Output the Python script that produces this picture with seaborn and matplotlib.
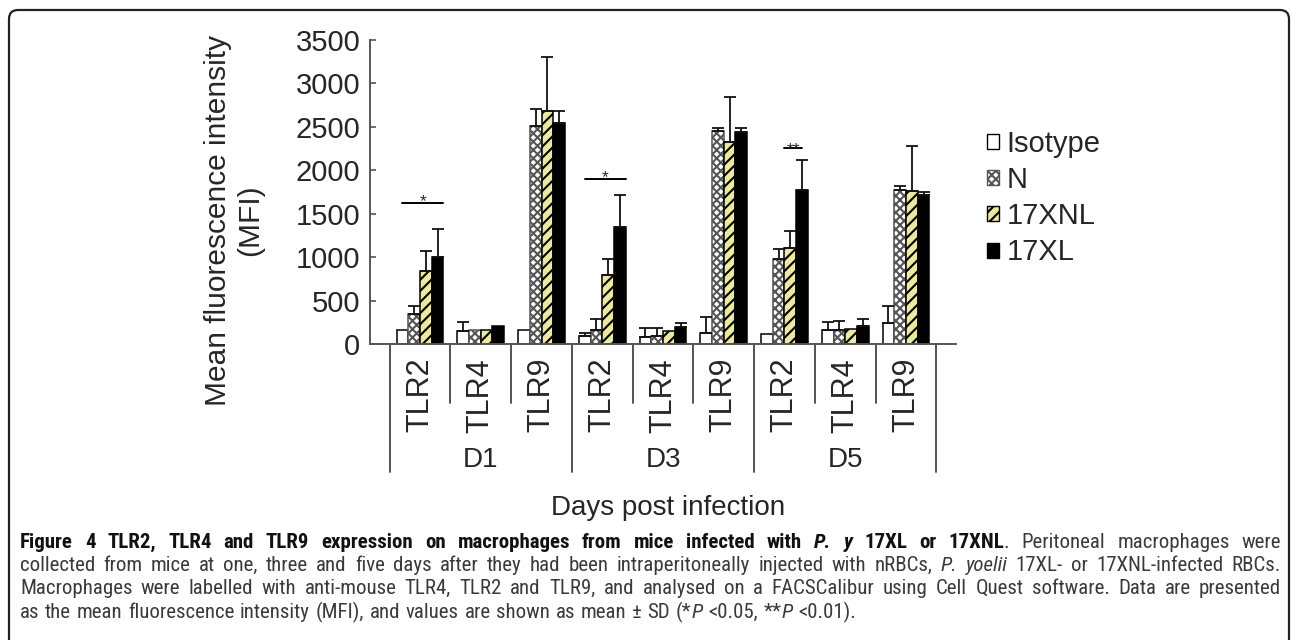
import numpy as np
import pandas as pd
import matplotlib
matplotlib.use("Agg")
import matplotlib.pyplot as plt
import seaborn as sns
from matplotlib import font_manager
from matplotlib.patches import Patch, FancyBboxPatch
from matplotlib.lines import Line2D
from matplotlib.transforms import IdentityTransform

days = ["D1", "D3", "D5"]
receptors = ["TLR2", "TLR4", "TLR9"]
groups = ["Isotype", "N", "17XNL", "17XL"]

# mean MFI, order: D1 TLR2/4/9, D3 TLR2/4/9, D5 TLR2/4/9
isotype = [165, 155, 165, 95, 80, 125, 115, 160, 240]
naive = [345, 160, 2510, 160, 95, 2455, 975, 160, 1775]
xnl = [840, 165, 2680, 790, 155, 2330, 1100, 175, 1760]
xl = [1005, 210, 2540, 1350, 200, 2445, 1775, 210, 1710]

# SD (only the upper half is drawn in the figure)
isotype_sd = [0, 95, 0, 35, 100, 190, 0, 90, 200]
naive_sd = [95, 0, 190, 130, 85, 30, 115, 100, 45]
xnl_sd = [225, 0, 630, 185, 0, 510, 200, 0, 525]
xl_sd = [320, 0, 140, 365, 40, 40, 345, 80, 35]

# significance marks
sig_pos = [0, 3, 6]
sig_text = ["*", "*", "**"]
sig_y = [1620, 1900, 2255]

bar_colors = ["white", "white", "#ebe8a2", "black"]
bar_edges = ["black", "#555555", "black", "black"]
hatches = ["", "xxxx", "///", ""]

sns.set_style("ticks")
plt.rcParams["font.family"] = ["Liberation Sans", "DejaVu Sans"]
plt.rcParams["hatch.linewidth"] = 1.5

cats = [f"{d} {r}" for d in days for r in receptors]
df = pd.DataFrame({
    "cat": np.tile(cats, len(groups)),
    "group": np.repeat(groups, len(cats)),
    "mfi": np.concatenate([isotype, naive, xnl, xl]),
})
sds = [isotype_sd, naive_sd, xnl_sd, xl_sd]

fig = plt.figure(figsize=(12.92, 6.4), dpi=100)
ax = fig.add_axes([370 / 1292, 1 - 344 / 640, 586 / 1292, 304 / 640])
sns.barplot(data=df, x="cat", y="mfi", hue="group", order=cats, hue_order=groups,
            palette=dict(zip(groups, bar_colors)), width=0.77, errorbar=None,
            edgecolor="black", linewidth=1.1, saturation=1, legend=False, ax=ax)
bar_conts = list(ax.containers)

for cont, h, ec, sd in zip(bar_conts, hatches, bar_edges, sds):
    xs, ys, es = [], [], []
    for bar, s in zip(cont, sd):
        bar.set_hatch(h)
        bar.set_edgecolor(ec)
        if s > 0:
            xs.append(bar.get_x() + bar.get_width() / 2)
            ys.append(bar.get_height())
            es.append(s)
    ax.errorbar(xs, ys, yerr=[np.zeros(len(es)), es], fmt="none", ecolor="#111111",
                elinewidth=1.3, capsize=4.5, capthick=1.3)

for i, lab, y in zip(sig_pos, sig_text, sig_y):
    bars = [c[i] for c in bar_conts]
    if lab == "*":
        x0 = bars[0].get_x() + bars[0].get_width() / 2
        x1 = bars[3].get_x() + bars[3].get_width()
        off = -2
    else:
        x0 = bars[2].get_x()
        x1 = bars[3].get_x() + bars[3].get_width() / 2
        off = -4
    ax.plot([x0, x1], [y, y], color="black", lw=1.4)
    ax.annotate(lab, xy=((x0 + x1) / 2, y), xytext=(0, off), textcoords="offset points",
                ha="center", va="baseline", fontsize=12.5)

ax.set_ylim(0, 3500)
ax.set_yticks(np.arange(0, 3501, 500))
ax.tick_params(axis="y", direction="in", length=4, width=1.2, color="#555555",
               labelsize=21, pad=7)
ax.set_xticks(range(len(cats)))
ax.set_xticklabels([c.split()[1] for c in cats], rotation=90, fontsize=22)
ax.tick_params(axis="x", length=0, pad=10)
ax.set_xlabel("")
ax.set_ylabel("")
sns.despine(ax=ax)
for sp in ["left", "bottom"]:
    ax.spines[sp].set_color("#555555")
    ax.spines[sp].set_linewidth(1.4)

xt = ax.get_xaxis_transform()
for k in range(len(cats) + 1):
    depth = -0.421 if k % 3 == 0 else -0.194
    ax.add_line(Line2D([k - 0.5, k - 0.5], [0, depth], transform=xt, color="#444444",
                       lw=1.3, clip_on=False))
for j, d in enumerate(days):
    ax.text(3 * j + 1, -0.3816, d, transform=xt, ha="center", va="center", fontsize=20)

fig.text(668 / 1292, 1 - 508 / 640, "Days post infection", ha="center", va="center",
         fontsize=20)
fig.text(234 / 1292, 1 - 220 / 640, "Mean fluorescence intensity\n(MFI)", rotation=90,
         ha="center", va="center", multialignment="center", fontsize=21.5, linespacing=1.2)

handles = [Patch(facecolor=c, edgecolor=e, hatch=h, label=g)
           for c, e, h, g in zip(bar_colors, bar_edges, hatches, groups)]
fig.legend(handles=handles, loc="upper left", bbox_to_anchor=(987 / 1292, 1 - 130 / 640),
           frameon=False, fontsize=21, handlelength=0.42, handleheight=0.42,
           handletextpad=0.25, labelspacing=0.28, borderpad=0, borderaxespad=0)

# border round the whole figure
fig.add_artist(FancyBboxPatch((9, -30), 1280, 660, boxstyle="round,pad=0,rounding_size=9",
                              transform=IdentityTransform(), fill=False,
                              edgecolor="#222222", lw=1.6))

# caption
caption_runs = [
    [("Figure 4 TLR2, TLR4 and TLR9 expression on macrophages from mice infected with ", "b"),
     ("P. y", "bi"), (" 17XL or 17XNL", "b"), (". Peritoneal macrophages were", "n")],
    [("collected from mice at one, three and five days after they had been intraperitoneally "
      "injected with nRBCs, ", "n"), ("P. yoelii", "i"), (" 17XL- or 17XNL-infected RBCs.", "n")],
    [("Macrophages were labelled with anti-mouse TLR4, TLR2 and TLR9, and analysed on a "
      "FACSCalibur using Cell Quest software. Data are presented", "n")],
    [("as the mean fluorescence intensity (MFI), and values are shown as mean \u00b1 SD (*", "n"),
     ("P", "i"), (" <0.05, **", "n"), ("P", "i"), (" <0.01).", "n")],
]
baselines = [548, 571, 594, 618]


def has_regular(name):
    ok_r = ok_b = False
    for f in font_manager.fontManager.ttflist:
        if f.name != name or f.style != "normal":
            continue
        w = f.weight if isinstance(f.weight, int) else font_manager.weight_dict.get(f.weight, 400)
        if w == 400:
            ok_r = True
        if w >= 600:
            ok_b = True
    return ok_r and ok_b


def pick_family(names):
    for n in names:
        if has_regular(n):
            return n
    return "Liberation Sans"


cap_family = pick_family(["Liberation Sans Narrow", "Roboto Condensed", "Noto Sans Condensed",
                          "Open Sans Condensed", "Liberation Sans"])
style_kw = {
    "n": dict(color="#3a3a3a"),
    "b": dict(weight="bold", color="#111111"),
    "i": dict(style="italic", color="#3a3a3a"),
    "bi": dict(weight="bold", style="italic", color="#111111"),
}
renderer = fig.canvas.get_renderer()


def to_words(runs):
    words = [[]]
    for txt, st in runs:
        for n, p in enumerate(txt.split(" ")):
            if n > 0:
                words.append([])
            if p:
                words[-1].append((p, st))
    return [w for w in words if w]


def put(x, y, s, st, size):
    return fig.text(x, y, s, fontsize=size, family=cap_family, va="baseline",
                    transform=IdentityTransform(), **style_kw[st])


def word_width(word, size):
    w = 0
    for s, st in word:
        t = put(0, 0, s, st, size)
        w += t.get_window_extent(renderer).width
        t.remove()
    return w


left, right = 20, 1281
target = right - left
ref_size = 12.0
space_em = 0.27
words_all = [to_words(r) for r in caption_runs]
size = 15.0
for ws in words_all[:3]:
    per_pt = sum(word_width(w, ref_size) for w in ws) / ref_size
    gap_pt = space_em * 100 / 72 * (len(ws) - 1)
    size = min(size, target / (per_pt + gap_pt))

for li, ws in enumerate(words_all):
    widths = [word_width(w, size) for w in ws]
    if li < 3:
        gap = (target - sum(widths)) / (len(ws) - 1)
    else:
        gap = size * 100 / 72 * space_em
    x = left
    y = 640 - baselines[li]
    for w, wd in zip(ws, widths):
        xx = x
        for s, st in w:
            t = put(xx, y, s, st, size)
            xx += t.get_window_extent(renderer).width
        x += wd + gap

fig.savefig("out.png", dpi=100, facecolor="white")
